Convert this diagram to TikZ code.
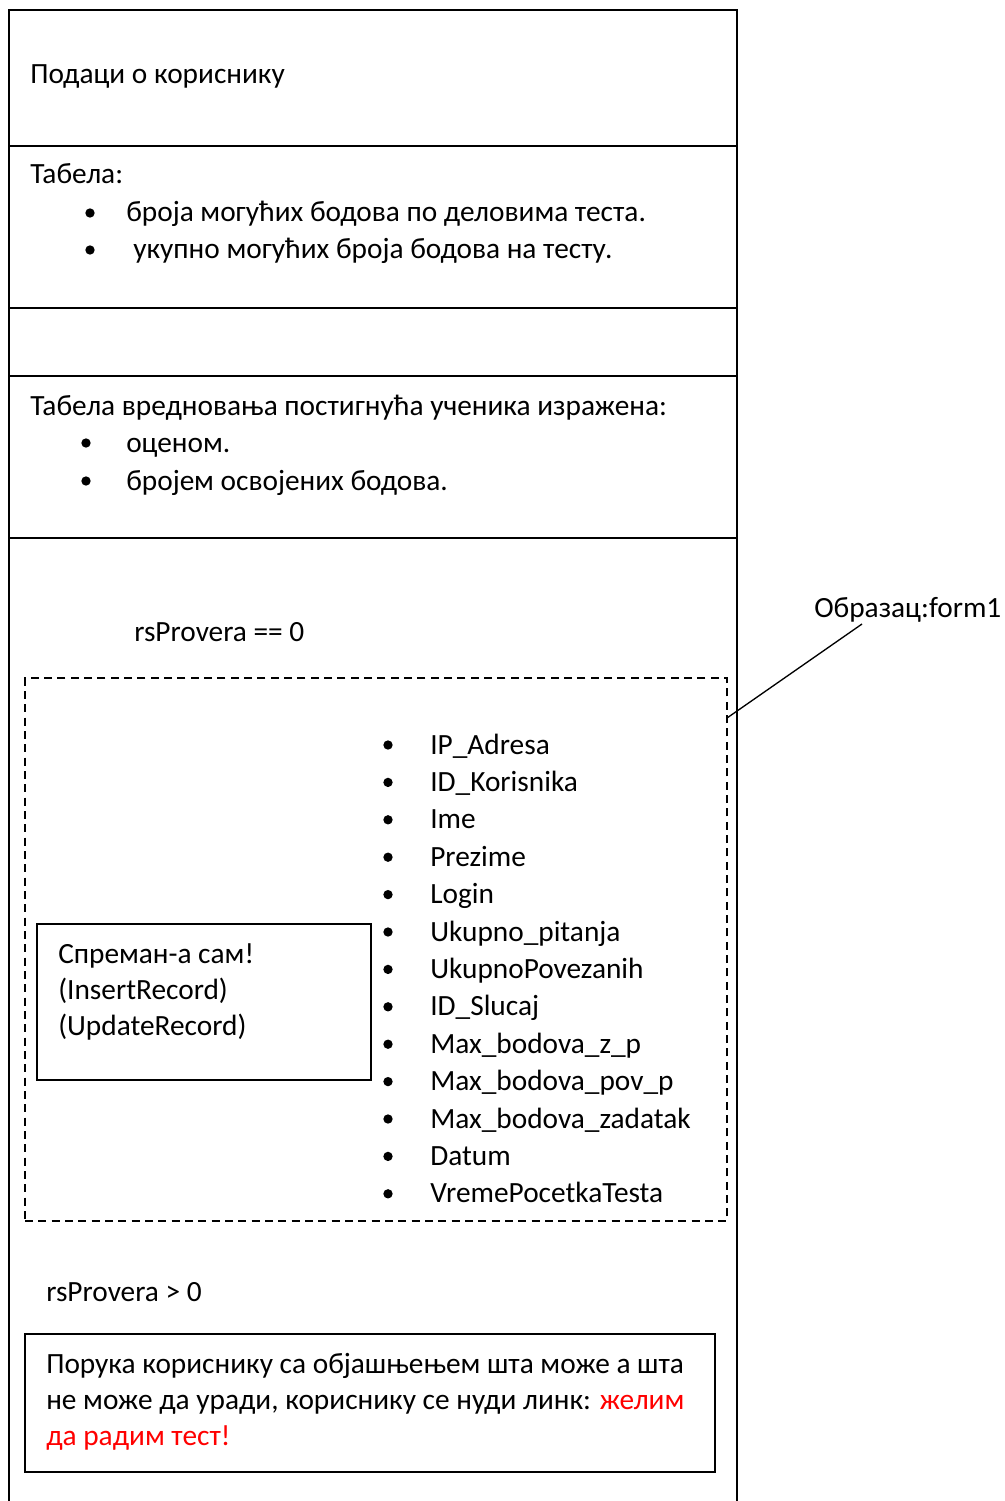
\documentclass[tikz,border=0pt]{standalone}
\usepackage{fontspec}
\setmainfont{Carlito}
\begin{document}
\begin{tikzpicture}[x=0.75pt,y=-0.75pt,
  frame/.style={line width=1.3pt,black},
  txt/.style={anchor=base west,inner sep=0pt,font=\fontsize{22pt}{26pt}\selectfont},
  dot/.style={circle,fill=black,inner sep=0pt,minimum size=7pt},
  dbox/.style={draw,dashed,dash pattern=on 6pt off 4pt,line width=1pt,inner sep=0pt},
  sbox/.style={draw,line width=1.1pt,inner sep=0pt}]
\useasboundingbox (0,0) rectangle (1004,1501);

% outer column and horizontal bands
\draw[frame] (9,1501) -- (9,10) -- (737,10) -- (737,1501);
\foreach \yy in {146,308,376,538} \draw[frame] (9,\yy) -- (737,\yy);

% band texts
\node[txt] (user) at (30,84) {Подаци о кориснику};
\node[txt] (tab) at (30,184) {Табела:};
\node[dot] (b1) at (90,213) {};
\node[txt] (t1) at (126,222) {броја могућих бодова по деловима теста.};
\node[dot] (b2) at (90,250) {};
\node[txt] (t2) at (133,259) {укупно могућих броја бодова на тесту.};

\node[txt] (eval) at (30,415) {Табела вредновања постигнућа ученика изражена:};
\node[dot] (b3) at (86,443) {};
\node[txt] (t3) at (126,452) {оценом.};
\node[dot] (b4) at (86,481) {};
\node[txt] (t4) at (126,490) {бројем освојених бодова.};

% form area
\node[txt] (c0) at (134,641) {rsProvera == 0};
\node[dbox,minimum width=702*0.75pt,minimum height=543*0.75pt] (form) at (376,949.5) {};
\node[txt] (flabel) at (814,617) {Образац:form1};
\coordinate (fa) at (727,718);
\coordinate (fb) at (862,624);
\draw[line width=1pt] (fa) -- (fb);

\foreach \lbl [count=\i from 0] in {IP\_Adresa,ID\_Korisnika,Ime,Prezime,Login,Ukupno\_pitanja,UkupnoPovezanih,ID\_Slucaj,Max\_bodova\_z\_p,Max\_bodova\_pov\_p,Max\_bodova\_zadatak,Datum,VremePocetkaTesta}{
  \node[dot] (fd\i) at (388,{745+37.4*\i}) {};
  \node[txt] (ft\i) at (430,{754+37.4*\i}) {\lbl};
}

\node[sbox,minimum width=334*0.75pt,minimum height=156*0.75pt] (btn) at (204,1002) {};
\node[txt] (bt1) at (58,963) {Спреман-а сам!};
\node[txt] (bt2) at (58,999) {(InsertRecord)};
\node[txt] (bt3) at (58,1035) {(UpdateRecord)};

% alternative branch
\node[txt] (c1) at (46,1301) {rsProvera > 0};
\node[sbox,minimum width=690*0.75pt,minimum height=138*0.75pt] (msg) at (370,1403) {};
\node[txt] (m1) at (46,1373) {Порука кориснику са објашњењем шта може а шта};
\node[txt] (m2) at (46,1409) {не може да уради, кориснику се нуди линк: \textcolor{red}{желим}};
\node[txt,text=red] (m3) at (46,1445) {да радим тест!};
\end{tikzpicture}
\end{document}
